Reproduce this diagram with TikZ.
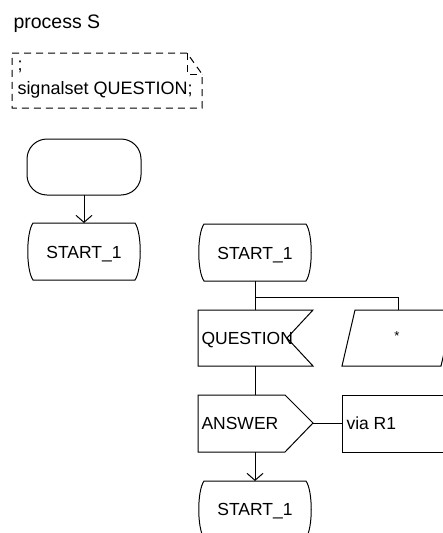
\documentclass[tikz,border=0pt]{standalone}
\usepackage{fontspec}
\setmainfont{Liberation Sans}
\usetikzlibrary{arrows.meta}
% SDL state symbol: straight top and bottom, sides bowed outwards
% #1 = centre x, #2 = top y, #3 = bottom y
\newcommand\sdlstate[3]{%
  \draw (#1-51,#2) -- (#1+51,#2)
    .. controls (#1+58,#2+10) and (#1+58,#3-10) .. (#1+51,#3)
    -- (#1-51,#3)
    .. controls (#1-58,#3-10) and (#1-58,#2+10) .. (#1-51,#2) -- cycle;}
\begin{document}
\begin{tikzpicture}[x=1pt,y=-1pt,line width=1pt,
  txt/.style={inner sep=0pt,font=\fontsize{17.5}{20}\selectfont},
  notetxt/.style={inner sep=0pt,font=\fontsize{18}{21}\selectfont},
  smalltxt/.style={inner sep=0pt,font=\fontsize{13}{15}\selectfont},
  ttl/.style={inner sep=0pt,font=\fontsize{19.5}{24}\selectfont},
  arr/.style={-{Straight Barb[length=7pt,width=16pt]}},
  notebox/.style={draw,dash pattern=on 7pt off 5pt},
]
\useasboundingbox (0,0) rectangle (443,533);
\begin{scope}
\clip (0,0) rectangle (443,533);

% heading
\node[ttl,anchor=base west] (title) at (13,28) {process S};

% text symbol with folded corner
\draw[notebox] (12,53) -- (187,53) -- (202,74) -- (202,108) -- (12,108) -- cycle;
\draw[notebox] (187,53) -- (187,74) -- (202,74);
\node[notetxt,anchor=base west] (semi) at (17,70) {;};
\node[notetxt,anchor=base west] (sigset) at (17,94) {signalset QUESTION;};

% start symbol and first state
\draw[rounded corners=20pt] (27,139) rectangle (141,195);
\coordinate (startbot) at (84,195);
\sdlstate{84}{223}{280}
\coordinate (s1top) at (84,223);
\node[txt,anchor=base] (s1) at (84,258) {START\_1};
\draw[arr] (startbot) -- (s1top);

% state START_1 with its transitions
\sdlstate{255}{224}{281}
\coordinate (s2bot) at (255,281);
\node[txt,anchor=base] (s2) at (255,259) {START\_1};

% input QUESTION
\coordinate (qtop) at (255,310);
\coordinate (qbot) at (255,366);
\draw (198,310) -- (313,310) -- (287,338) -- (313,366) -- (198,366) -- cycle;
\node[txt,anchor=base west] (q) at (201,344) {QUESTION};

% input * (parallelogram)
\coordinate (ptop) at (398,310);
\draw (355,310) -- (454,310) -- (441,366) -- (342,366) -- cycle;
\node[smalltxt,anchor=base] (star) at (397,340) {*};

% branch from the state to both inputs
\coordinate (branch) at (255,297);
\draw (s2bot) -- (qtop);
\draw (branch) -| (ptop);

% output ANSWER via R1
\coordinate (atop) at (255,395);
\coordinate (abot) at (255,452);
\coordinate (atip) at (313,423);
\draw (198,395) -- (285,395) -- (atip) -- (285,452) -- (198,452) -- cycle;
\node[txt,anchor=base west] (ans) at (201,429) {ANSWER};
\draw (qbot) -- (atop);

\coordinate (vialeft) at (342,423);
\draw (342,395) rectangle (460,452);
\node[txt,anchor=base west] (via) at (346,429) {via R1};
\draw (atip) -- (vialeft);

% next state
\sdlstate{255}{481}{538}
\coordinate (s3top) at (255,481);
\node[txt,anchor=base] (s3) at (255,515) {START\_1};
\draw[arr] (abot) -- (s3top);
\end{scope}
\end{tikzpicture}
\end{document}
